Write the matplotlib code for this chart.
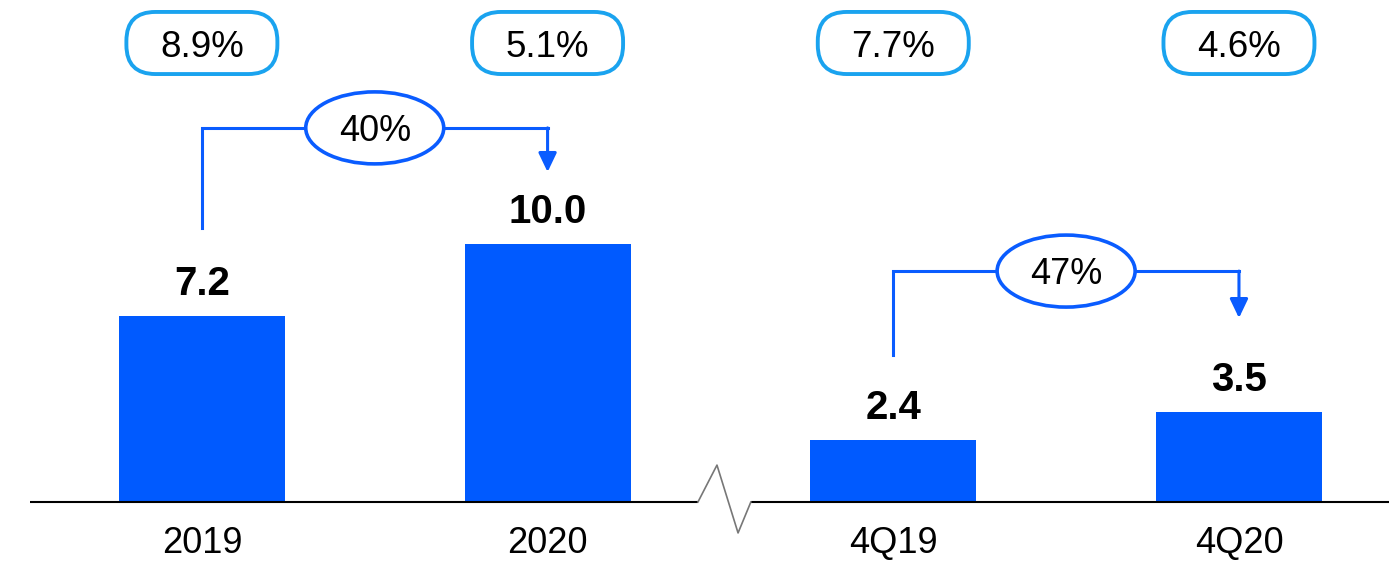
import matplotlib
matplotlib.use("Agg")
import matplotlib.pyplot as plt
import matplotlib.patches as mpatches
import matplotlib.transforms as mtransforms

plt.rcParams.update({
    "font.family": ["Liberation Sans", "DejaVu Sans"],
})

# data
categories = ["2019", "2020", "4Q19", "4Q20"]
values = [7.2, 10.0, 2.4, 3.5]
margins = ["8.9%", "5.1%", "7.7%", "4.6%"]
growth_labels = ["40%", "47%"]
growth_pairs = [(0, 1), (2, 3)]

BAR_BLUE = "#005aff"
LINE_BLUE = "#0a5cff"
BOX_BLUE = "#1aa3ef"

# bracket layout (data units): line height, left start, arrow tip
bracket_y = [14.5, 8.95]
bracket_start = [10.62, 5.70]
bracket_tip = [12.79, 7.13]

fig = plt.figure(figsize=(13.89, 5.62), dpi=100)
ax = fig.add_axes([0, 0, 1, 1])
ax.set_xlim(-0.584, 3.434)
ax.set_ylim(-2.326, 19.457)
ax.set_axis_off()

x = list(range(len(categories)))
ax.bar(x, values, width=0.48, color=BAR_BLUE, zorder=2)

# value labels
for xi, v in zip(x, values):
    ax.annotate(f"{v:.1f}", xy=(xi, v), xytext=(0, 15), textcoords="offset points",
                ha="center", va="baseline", fontsize=29, fontweight="bold", color="black")

# category labels
for xi, c in zip(x, categories):
    ax.text(xi, -1.98, c, ha="center", va="baseline", fontsize=26, color="black")

# baseline with break between the two groups
brk = 1.5
ax.plot([-0.4976, brk - 0.065], [0, 0], color="black", lw=1.5, zorder=3,
        solid_capstyle="butt")
ax.plot([brk + 0.088, 3.434], [0, 0], color="black", lw=1.5, zorder=3,
        solid_capstyle="butt")
ax.plot([brk - 0.065, brk - 0.010, brk + 0.051, brk + 0.088],
        [0, 1.43, -1.2, 0], color="#777777", lw=1.2, zorder=3)

# margin boxes on top
for xi, m in zip(x, margins):
    tr = fig.dpi_scale_trans + mtransforms.ScaledTranslation(xi, 0.9235, ax.get_xaxis_transform())
    box = mpatches.FancyBboxPatch((-0.445, -0.0005), 0.89, 0.001,
                                  boxstyle="round,pad=0.31,rounding_size=0.29", transform=tr,
                                  facecolor="white", edgecolor=BOX_BLUE, lw=2.8)
    ax.add_patch(box)
    ax.annotate(m, xy=(xi, 0.9235), xycoords=ax.get_xaxis_transform(),
                xytext=(0, -3), textcoords="offset points",
                ha="center", va="center", fontsize=26.5, color="black")

# growth brackets
for (i0, i1), lab, yb, y0, yt in zip(growth_pairs, growth_labels, bracket_y,
                                      bracket_start, bracket_tip):
    ax.plot([i0, i0, i1], [y0, yb, yb], color=LINE_BLUE, lw=2.2,
            solid_joinstyle="miter", zorder=3)
    ax.annotate("", xy=(i1, yt), xytext=(i1, yb),
                arrowprops=dict(arrowstyle="-|>,head_length=1.15,head_width=0.55",
                                color=LINE_BLUE, lw=2.2, shrinkA=0, shrinkB=0))
    xm = (i0 + i1) / 2
    tr = fig.dpi_scale_trans + mtransforms.ScaledTranslation(xm, yb, ax.transData)
    ell = mpatches.Ellipse((0, 0), 1.38, 0.72, transform=tr, facecolor="white",
                           edgecolor=LINE_BLUE, lw=2.6, zorder=4)
    ax.add_patch(ell)
    ax.annotate(lab, xy=(xm, yb), xytext=(0, -2.5), textcoords="offset points",
                ha="center", va="center", fontsize=26, color="black", zorder=5)

fig.savefig("out.png", dpi=100)
